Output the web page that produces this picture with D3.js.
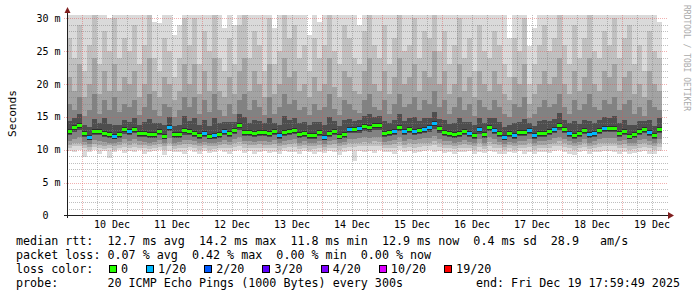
<!DOCTYPE html>
<html lang="en">
<head>
<meta charset="UTF-8">
<title>SmokePing latency</title>
<script src="https://d3js.org/d3.v7.min.js"></script>
<style>
    html, body { margin: 0; padding: 0; background: #ffffff; }
    text { font-family: "DejaVu Sans Mono", "Liberation Mono", monospace; }
</style>
</head>
<body>
<div id="chart"></div>
<script>
    // ---- data (one sample = 2 hours) ----
    var medianMs = [
        12.8,13.4,13.8,12.5,12.0,12.8,12.8,12.6,12.4,12.1,12.4,13.1,
        12.8,13.2,12.6,12.6,12.4,12.4,12.8,12.1,13.5,12.4,12.4,13.0,
        12.9,12.6,12.2,12.5,12.1,12.2,12.4,12.8,12.5,13.0,13.8,12.7,
        12.7,12.5,12.7,12.7,12.5,12.8,12.2,12.7,12.9,13.0,12.4,12.6,
        12.3,12.2,12.7,12.0,12.6,12.8,12.1,12.4,13.1,13.1,13.3,13.6,
        13.4,13.7,13.7,12.5,12.7,12.8,13.5,12.8,13.1,12.9,13.0,13.2,
        13.4,14.0,13.3,12.7,12.6,12.4,12.5,12.8,12.5,12.3,13.1,12.4,
        13.5,13.0,12.5,12.0,12.6,12.2,12.7,12.7,13.0,12.2,12.6,12.6,
        12.8,13.2,13.7,13.1,12.6,12.3,12.5,13.0,12.4,12.6,13.0,13.3,
        13.3,13.3,12.6,12.9,12.1,12.4,12.8,13.2,12.7,12.2,13.2
    ];
    // lost pings out of 20
    var lossCount = [
        0,0,0,0,1,0,0,0,0,1,0,0,
        1,0,0,0,0,0,0,0,1,0,0,0,
        0,0,0,1,0,1,0,1,0,0,0,0,
        0,0,0,0,0,0,1,0,0,0,0,0,
        0,0,0,1,0,0,0,0,1,0,1,0,
        0,0,0,0,0,1,0,1,0,1,0,1,
        1,1,0,0,0,0,0,0,1,0,1,0,
        0,1,0,1,0,1,0,0,1,1,0,0,
        0,1,0,0,1,0,0,0,1,1,0,1,
        0,0,0,0,0,0,0,0,1,0,0
    ];
    // smoke: upper edges (1 = innermost ... 5 = max ping)
    var smokeHi1 = [
        14.4,14.8,15.5,13.8,13.5,14.7,14.0,14.8,13.9,13.8,13.8,14.6,
        14.2,14.9,13.8,14.2,14.7,14.0,14.0,13.8,15.0,13.6,13.8,15.1,
        14.4,14.8,13.7,14.6,13.6,14.8,14.0,14.2,14.2,14.2,15.4,15.0,
        14.1,14.5,14.4,14.0,14.8,14.0,13.8,15.1,14.5,14.8,14.0,14.2,
        13.7,14.2,14.2,13.7,15.0,14.4,13.6,14.6,14.7,14.4,14.6,15.2,
        15.4,15.0,15.1,14.4,14.0,14.5,15.4,14.4,14.8,15.0,14.3,14.9,
        14.9,15.8,14.7,14.6,13.9,14.1,14.8,14.2,14.2,13.7,14.9,14.0,
        14.8,14.8,14.2,13.5,13.8,14.0,14.2,14.7,14.0,13.6,14.3,14.6,
        14.3,14.7,15.6,14.6,14.0,14.4,13.9,14.6,14.4,14.1,14.5,15.0,
        14.8,15.2,14.0,14.5,13.8,13.8,14.4,14.4,14.5,13.6,14.8
    ];
    var smokeHi2 = [
        17,16,18,15.2,16,18.5,15.5,17.5,16,18,15.8,17,
        16.5,17.5,15.3,16.5,18.5,16,15.2,17,16.5,15,16,18,
        16.5,18,15.5,17.5,15.8,18.5,16,15.2,17,15.5,17.5,18.5,
        16,17.5,16.5,15.3,18,15.5,16.5,18.5,17,17.5,16,16.5,
        15.3,17,16,16.5,18.5,16.2,15.3,17.5,17,16,15.6,17.5,
        18.5,16.5,16,17.5,15.5,17,18.5,16.5,17,18,16,17.5,
        17,19,16.5,17.5,15.5,16.5,18,16,17,15.2,17.5,16.5,
        16,17.5,16.5,15.5,15,17,16.5,18,14.8,15.5,16.5,17.5,
        16.5,17,18.5,16.5,15.5,17.5,16,17,18.5,16.5,16,17.5,
        17,18,16,17,17.5,15.5,16.5,15.2,17.5,16.5,16
    ];
    var smokeHi3 = [
        21,19,23,18,20,24,18.5,22,19,23,19,21,
        20,22,18,20,24,19,18,21,20,17.5,19,23,
        20,23,18.5,22,19,24,19,18,21,18.5,22,24,
        19,22,20,18,23,18.5,20,24,21,22,19,20,
        18,21,19,20,24,19.5,18,22,21,19,18.5,22,
        24,20,19,22,18.5,21,24,20,21,23,19,22,
        21,25,20,22,18.5,20,23,19,21,18,22,20,
        19,22,20,18.5,17.5,21,20,23,17,18.5,20,22,
        20,21,24,20,18.5,22,19,21,24,20,19,22,
        21,23,19,21,22,18.5,20,18,22,20,19
    ];
    var smokeHi4 = [
        27,24,29,22,26,31,23,28,25,30,24,27,
        25,29,23,26,31,24,22,27,25,21,24,30,
        26,30,23,28,25,31,24,22,27,23,29,31,
        24,28,26,22,30,23,25,31,27,29,24,26,
        22,27,24,26,31,25,23,29,27,24,23,28,
        31,26,24,29,23,27,31,25,26,30,24,28,
        27,31,25,28,23,26,30,24,27,22,29,25,
        24,28,26,23,21,27,25,30,20,23,26,29,
        25,27,31,26,23,29,24,27,31,25,24,28,
        26,30,24,27,29,23,26,22,28,25,24
    ];
    var smokeHi5 = [
        34,31,33,30.5,36,32,31,38,30,33,35,31,
        32,34,31,30.5,33,29.5,29.3,33,31,27.5,29,34,
        31,36,32,33,30.5,34,31,28.5,32,29,33,35,
        31,34,32,30.5,33,28.5,31,36,32,34,31,33,
        27.5,33,29.5,31,35,32,30.5,34,32,31,29,33,
        36,32,31,34,30.5,33,35,31,32,34,31,33,
        32,37,31,34,30.5,32,35,31,33,30.5,34,32,
        31,34,32,30.5,27,33,31,35,25.8,28.5,32,34,
        31,33,35,32,30.5,34,31,33,36,32,31,34,
        32,35,31,33,34,31,32,30.5,33,31,29.5
    ];
    // smoke: lower edges (1 = innermost ... 5 = min ping)
    var smokeLo1 = [
        12.2,12.7,13.0,11.9,11.5,12.2,12.2,12.0,11.8,11.6,11.8,12.4,
        12.2,12.5,12.0,12.0,11.8,11.8,12.2,11.6,12.8,11.8,11.8,12.3,
        12.3,12.0,11.7,11.9,11.6,11.7,11.8,12.2,11.9,12.4,13.0,12.1,
        12.1,11.9,12.1,12.1,11.9,12.2,11.7,12.1,12.3,12.4,11.8,12.0,
        11.7,11.7,12.1,11.5,12.0,12.2,11.6,11.8,12.5,12.5,12.6,12.9,
        12.7,13.0,13.0,11.9,12.1,12.2,12.8,12.2,12.5,12.3,12.4,12.6,
        12.7,13.2,12.6,12.1,12.0,11.8,11.9,12.2,11.9,11.7,12.4,11.8,
        12.8,12.4,11.9,11.5,12.0,11.7,12.1,12.1,12.4,11.7,12.0,12.0,
        12.2,12.6,13.0,12.5,12.0,11.7,11.9,12.4,11.8,12.0,12.4,12.7,
        12.7,12.7,12.0,12.3,11.6,11.8,12.2,12.6,12.1,11.7,12.6
    ];
    var smokeLo2 = [
        11.4,11.7,11.9,11.2,10.9,11.5,11.4,11.2,11.1,11.0,11.2,11.6,
        11.4,11.6,11.3,11.2,11.1,11.2,11.5,11.0,11.8,11.1,11.2,11.5,
        11.5,11.3,11.0,11.2,11.0,11.1,11.2,11.5,11.2,11.6,11.9,11.4,
        11.4,11.2,11.4,11.3,11.2,11.5,11.0,11.4,11.5,11.6,11.1,11.3,
        11.0,11.1,11.4,10.9,11.3,11.5,11.0,11.2,11.7,11.6,11.8,11.9,
        11.8,12.0,11.9,11.2,11.4,11.5,11.9,11.4,11.7,11.5,11.6,11.8,
        11.8,12.1,11.7,11.4,11.3,11.1,11.2,11.5,11.2,11.0,11.6,11.1,
        11.9,11.6,11.2,10.9,11.2,11.0,11.4,11.3,11.6,11.0,11.3,11.3,
        11.5,11.8,12.0,11.7,11.3,11.0,11.2,11.6,11.1,11.3,11.6,11.8,
        11.8,11.8,11.3,11.5,11.0,11.1,11.5,11.7,11.4,11.0,11.7
    ];
    var smokeLo3 = [
        10.8,11.0,11.1,10.7,10.4,10.9,10.8,10.6,10.7,10.5,10.7,11.0,
        10.8,11.0,10.8,10.7,10.6,10.7,10.9,10.5,11.1,10.6,10.7,10.9,
        10.9,10.8,10.5,10.7,10.5,10.6,10.7,10.9,10.7,11.0,11.2,10.9,
        10.8,10.7,10.9,10.8,10.7,10.9,10.5,10.8,10.9,11.0,10.6,10.8,
        10.5,10.6,10.8,10.4,10.8,10.9,10.5,10.7,11.0,11.0,11.1,11.2,
        11.1,11.3,11.2,10.7,10.8,10.9,11.2,10.8,11.0,10.9,11.0,11.1,
        11.1,11.4,11.0,10.8,10.7,10.6,10.7,10.9,10.7,10.5,11.0,10.6,
        11.2,10.9,10.7,10.4,10.7,10.5,10.8,10.8,11.0,10.5,10.8,10.8,
        10.9,11.1,11.3,11.0,10.8,10.5,10.7,11.0,10.6,10.8,11.0,11.1,
        11.1,11.1,10.8,10.9,10.5,10.6,10.9,11.0,10.8,10.5,11.0
    ];
    var smokeLo4 = [
        10.3,10.5,10.5,10.2,9.9,10.4,10.3,10.1,10.2,10.0,10.2,10.4,
        10.3,10.4,10.3,10.2,10.1,10.2,10.4,10.0,10.5,10.1,10.2,10.3,
        10.4,10.3,10.0,10.2,10.0,10.1,10.2,10.3,10.2,10.4,10.6,10.3,
        10.3,10.2,10.3,10.3,10.2,10.3,10.0,10.3,10.4,10.4,10.1,10.3,
        10.0,10.1,10.3,9.9,10.3,10.3,10.0,10.2,10.4,10.4,10.5,10.6,
        10.5,10.6,10.6,10.2,10.3,10.3,10.6,10.3,10.4,10.3,10.4,10.5,
        10.5,10.7,10.4,10.3,10.2,10.1,10.2,10.3,10.2,10.0,10.4,10.1,
        10.6,10.3,10.2,9.9,10.2,10.0,10.3,10.2,10.4,10.0,10.2,10.2,
        10.3,10.5,10.6,10.4,10.2,10.0,10.2,10.4,10.1,10.2,10.4,10.5,
        10.5,10.5,10.2,10.3,10.0,10.1,10.3,10.4,10.2,10.0,10.4
    ];
    var smokeLo5 = [
        9.8,9.6,9.9,8.9,9.7,9.9,9.4,9.8,8.7,9.6,9.9,9.5,
        9.8,9.7,9.9,9.3,9.6,9.8,9.9,9.2,9.8,9.6,9.7,9.4,
        9.9,9.6,9.3,9.8,9.5,9.7,9.9,9.6,9.4,9.8,9.9,9.5,
        9.8,9.4,9.7,9.8,9.5,9.7,9.3,9.8,9.6,9.7,9.4,9.8,
        9.6,9.3,9.7,9.5,9.8,9.6,9.2,9.7,9.8,8.3,9.8,9.7,
        9.8,9.5,9.9,9.6,9.7,9.4,9.9,9.6,9.8,9.5,9.7,9.8,
        9.9,9.6,9.8,9.5,9.7,9.3,9.7,9.6,9.8,9.4,9.7,9.5,
        9.8,9.6,9.4,9.3,9.7,9.5,9.8,9.4,9.6,9.3,9.7,9.6,
        9.5,9.8,9.9,9.6,9.4,9.2,9.6,9.8,9.3,9.6,9.7,9.8,
        9.8,9.6,9.4,9.7,9.3,9.5,9.6,9.8,9.4,9.3,9.8
    ];
    var yTicks = [0, 5, 10, 15, 20, 25, 30];
    var lossLevels = [0, 1, 2, 3, 4, 10, 19];
    var lossColors = ["#26ff00", "#00b8ff", "#0059ff", "#5e00ff", "#7e00ff", "#dd00ff", "#ff0000"];
    var rttStats = ["12.7 ms avg", "14.2 ms max", "11.8 ms min", "12.9 ms now", "0.4 ms sd", "28.9   am/s"];
    var lossStats = ["0.07 % avg", "0.42 % max", "0.00 % min", "0.00 % now"];

    var width = 697, height = 297;
    var svg = d3.select("#chart").append("svg")
        .attr("width", width)
        .attr("height", height)
        .style("display", "block");

    svg.append("rect").attr("width", width).attr("height", height).attr("fill", "#ffffff");

    var endTime = new Date(2025, 11, 19, 17, 59, 49);
    var startTime = new Date(endTime.getTime() - 10 * 864e5);
    var sampleStart = new Date(2025, 11, 9, 18, 0, 0);
    var step = 2 * 3600e3;
    function t(i) { return new Date(sampleStart.getTime() + i * step); }

    var x = d3.scaleTime().domain([startTime, endTime]).range([67, 667]);
    var y = d3.scaleLinear().domain([0, 30.5]).range([215.5, 15]).clamp(true);

    // smoke bands, outer (light) to inner (dark)
    var bands = [
        { lo: smokeLo5, hi: smokeHi5, color: "#dadada" },
        { lo: smokeLo4, hi: smokeHi4, color: "#c0c0c0" },
        { lo: smokeLo3, hi: smokeHi3, color: "#a3a3a3" },
        { lo: smokeLo2, hi: smokeHi2, color: "#828282" },
        { lo: smokeLo1, hi: smokeHi1, color: "#4e4e4e" }
    ];
    var smoke = svg.append("g").attr("shape-rendering", "crispEdges");
    bands.forEach(function (b) {
        smoke.append("g").selectAll("rect")
            .data(medianMs)
            .join("rect")
            .attr("x", function (d, i) { return x(t(i)); })
            .attr("width", function (d, i) { return x(t(i + 1)) - x(t(i)); })
            .attr("y", function (d, i) { return y(b.hi[i]); })
            .attr("height", function (d, i) { return y(b.lo[i]) - y(b.hi[i]); })
            .attr("fill", b.color);
    });

    // grid
    var grid = svg.append("g").attr("shape-rendering", "crispEdges").attr("fill", "none");
    var minorY = d3.range(1, 31).filter(function (v) { return v % 5 !== 0; });
    grid.selectAll("line.ym").data(minorY).join("line")
        .attr("x1", 67).attr("x2", 668)
        .attr("y1", function (d) { return Math.round(y(d)) + 0.5; })
        .attr("y2", function (d) { return Math.round(y(d)) + 0.5; })
        .attr("stroke", "rgba(128,128,128,0.5)").attr("stroke-dasharray", "1,1");
    var sixHours = d3.timeHour.every(6).range(startTime, endTime).filter(function (d) { return d.getHours() !== 0; });
    grid.selectAll("line.xm").data(sixHours).join("line")
        .attr("x1", function (d) { return Math.round(x(d)) + 0.5; })
        .attr("x2", function (d) { return Math.round(x(d)) + 0.5; })
        .attr("y1", 15).attr("y2", 215)
        .attr("stroke", "rgba(128,128,128,0.5)").attr("stroke-dasharray", "1,1");
    grid.selectAll("line.yM").data(yTicks.slice(1)).join("line")
        .attr("x1", 64).attr("x2", 668)
        .attr("y1", function (d) { return Math.round(y(d)) + 0.5; })
        .attr("y2", function (d) { return Math.round(y(d)) + 0.5; })
        .attr("stroke", "rgba(224,79,79,0.45)").attr("stroke-dasharray", "1,1");
    var days = d3.timeDay.range(startTime, endTime);
    grid.selectAll("line.xM").data(days).join("line")
        .attr("x1", function (d) { return Math.round(x(d)) + 0.5; })
        .attr("x2", function (d) { return Math.round(x(d)) + 0.5; })
        .attr("y1", 15).attr("y2", 218)
        .attr("stroke", "rgba(224,79,79,0.45)").attr("stroke-dasharray", "1,1");

    // median, coloured by loss
    function lossColor(n) {
        var c = lossColors[0];
        lossLevels.forEach(function (l, k) { if (n >= l) c = lossColors[k]; });
        return c;
    }
    var med = svg.append("g").attr("shape-rendering", "crispEdges");
    med.selectAll("rect.halo")
        .data(medianMs)
        .join("rect")
        .attr("x", function (d, i) { return x(t(i)); })
        .attr("width", function (d, i) { return x(t(i + 1)) - x(t(i)); })
        .attr("y", function (d) { return Math.round(y(d)) - 2; })
        .attr("height", 5)
        .attr("fill", "#2e2e2e");
    med.selectAll("rect.line")
        .data(medianMs)
        .join("rect")
        .attr("x", function (d, i) { return x(t(i)); })
        .attr("width", function (d, i) { return x(t(i + 1)) - x(t(i)); })
        .attr("y", function (d) { return Math.round(y(d)) - 1; })
        .attr("height", 3)
        .attr("fill", function (d, i) { return lossColor(lossCount[i]); });

    // axes
    var axis = svg.append("g").attr("shape-rendering", "crispEdges");
    axis.append("line").attr("x1", 67.5).attr("x2", 67.5).attr("y1", 12).attr("y2", 218)
        .attr("stroke", "#1f1f1f");
    axis.append("line").attr("x1", 64).attr("x2", 670).attr("y1", 215.5).attr("y2", 215.5)
        .attr("stroke", "#1f1f1f");
    svg.append("path").attr("d", "M64.5,13 L70.5,13 L67.5,7 Z").attr("fill", "#801f1f");
    svg.append("path").attr("d", "M668,212 L668,219 L674,215.5 Z").attr("fill", "#801f1f");

    // y labels
    svg.append("g").selectAll("text").data(yTicks).join("text")
        .attr("xml:space", "preserve")
        .attr("x", 60.5)
        .attr("y", function (d) { return y(d); })
        .attr("dy", "0.35em")
        .attr("text-anchor", "end")
        .style("font-size", "10px")
        .text(function (d) { return d === 0 ? "0  " : d + " m"; });

    // x labels at noon
    var noons = days.map(function (d) { return d3.timeHour.offset(d, 12); })
        .filter(function (d) { return d < endTime; });
    svg.append("g").selectAll("text").data(noons).join("text")
        .attr("x", function (d) { return x(d); })
        .attr("y", 228)
        .attr("text-anchor", "middle")
        .style("font-size", "10px")
        .text(function (d) { return d3.timeFormat("%d %b")(d); });

    svg.append("text")
        .attr("transform", "translate(16,113.5) rotate(-90)")
        .attr("text-anchor", "middle")
        .style("font-size", "11.2px")
        .text("Seconds");

    svg.append("text")
        .attr("transform", "translate(684,5) rotate(90)")
        .style("font-size", "8px")
        .attr("fill", "#aaaaaa")
        .text("RRDTOOL / TOBI OETIKER");

    // legend
    var leg = svg.append("g").style("font-size", "11.7px").attr("fill", "#000");
    leg.append("text").attr("xml:space", "preserve").attr("x", 16).attr("y", 244.5)
        .text("median rtt:  " + rttStats.join("  "));
    leg.append("text").attr("xml:space", "preserve").attr("x", 16).attr("y", 258.5)
        .text("packet loss: " + lossStats.join("  "));
    leg.append("text").attr("x", 16).attr("y", 272.5).text("loss color:");
    var cw = 7.05;
    var lx = 109;
    lossLevels.forEach(function (l, k) {
        var label = l === 0 ? "0" : l + "/20";
        leg.append("rect").attr("x", lx + 0.5).attr("y", 265.5).attr("width", 7).attr("height", 7)
            .attr("fill", lossColors[k]).attr("stroke", "#000").attr("shape-rendering", "crispEdges");
        leg.append("text").attr("x", lx + 12).attr("y", 272.5).text(label);
        lx += 12 + label.length * cw + 18;
    });
    leg.append("text").attr("xml:space", "preserve").attr("x", 16).attr("y", 286.5)
        .text("probe:       20 ICMP Echo Pings (1000 Bytes) every 300s");
    leg.append("text").attr("x", 680).attr("y", 286.5).attr("text-anchor", "end")
        .text("end: " + "Fri Dec 19 17:59:49 2025");
</script>
</body>
</html>
